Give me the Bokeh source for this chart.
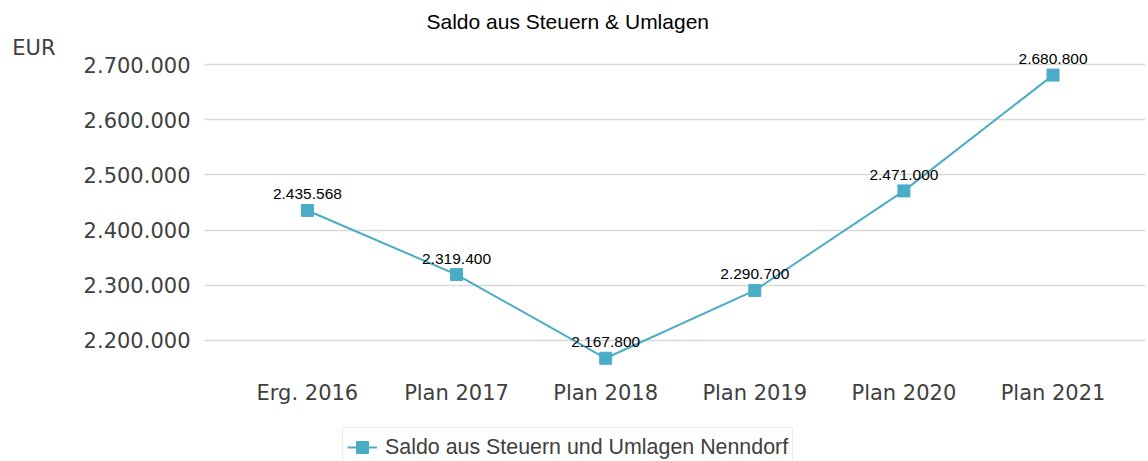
from bokeh.plotting import figure
from bokeh.layouts import column
from bokeh.models import (Range1d, FixedTicker, Legend, LegendItem, LinearAxis, ColumnDataSource)
from bokeh.core.properties import value
from bokeh.embed import file_html
from bokeh.resources import INLINE

categories = ["Erg. 2016", "Plan 2017", "Plan 2018", "Plan 2019", "Plan 2020", "Plan 2021"]
values = [2435568, 2319400, 2167800, 2290700, 2471000, 2680800]
y_ticks = [2200000, 2300000, 2400000, 2500000, 2600000, 2700000]
series_name = "Saldo aus Steuern und Umlagen Nenndorf"
title_text = "Saldo aus Steuern & Umlagen"
unit_text = "EUR"

def fmt(v):
    return f"{v:,}".replace(",", ".")

xs = list(range(len(categories)))
src = ColumnDataSource(dict(x=xs, y=values, lbl=[fmt(v) for v in values]))

COLOR = "#4bacc6"
TXT = "#404040"
Y_START, Y_END = 2142000, 2761600
UNIT_POS = 2730800  # vertical position of the unit caption (layout only)

p = figure(width=1148, height=420, output_backend="svg", toolbar_location=None,
           x_range=Range1d(-0.69, 5.62), y_range=Range1d(Y_START, Y_END),
           min_border_left=204, min_border_right=3, min_border_top=30, min_border_bottom=48)
p.outline_line_color = None
p.background_fill_color = "white"
p.border_fill_color = "white"

p.title.text = title_text
p.title.text_font = "Liberation Sans"
p.title.text_font_size = "21px"
p.title.text_font_style = "normal"
p.title.text_color = "#000000"
p.title.align = "left"
p.title.offset = 222
p.title.standoff = -4

p.xgrid.grid_line_color = None
p.ygrid.grid_line_color = "#d9d9d9"
p.ygrid.grid_line_width = 1.5

p.yaxis.ticker = FixedTicker(ticks=y_ticks)
p.yaxis.major_label_overrides = {t: fmt(t) for t in y_ticks}
p.xaxis.ticker = FixedTicker(ticks=xs)
p.xaxis.major_label_overrides = {i: c for i, c in enumerate(categories)}

unit_axis = LinearAxis(ticker=FixedTicker(ticks=[UNIT_POS]),
                       major_label_overrides={UNIT_POS: unit_text})
p.add_layout(unit_axis, "left")

for ax in (p.xaxis[0], p.yaxis[0], unit_axis):
    ax.axis_line_color = None
    ax.major_tick_line_color = None
    ax.minor_tick_line_color = None
    ax.major_tick_out = 0
    ax.major_tick_in = 0
    ax.minor_tick_out = 0
    ax.major_label_text_font = "DejaVu Sans"
    ax.major_label_text_font_size = "21px"
    ax.major_label_text_color = TXT
p.yaxis[0].major_label_standoff = 14
p.xaxis[0].major_label_standoff = 8
unit_axis.major_label_standoff = 25

line = p.line("x", "y", source=src, line_color=COLOR, line_width=2)
pts = p.scatter("x", "y", source=src, marker="square", size=12, fill_color=COLOR, line_color=COLOR)
p.text("x", "y", text="lbl", source=src, text_font=value("Liberation Sans"), text_font_size="15.5px",
       text_color="#000000", text_align="center", text_baseline="alphabetic", y_offset=-16)

# legend strip below the chart (its series stays outside its own visible range)
lg = figure(width=1148, height=41, output_backend="svg", toolbar_location=None,
            x_range=Range1d(0, 1), y_range=Range1d(0, 1), x_axis_type=None, y_axis_type=None,
            min_border_left=0, min_border_right=0, min_border_top=0, min_border_bottom=0)
lg.outline_line_color = None
lg.xgrid.grid_line_color = None
lg.ygrid.grid_line_color = None
lg_line = lg.line("x", "y", source=src, line_color=COLOR, line_width=2)
lg_pts = lg.scatter("x", "y", source=src, marker="square", size=14, fill_color=COLOR, line_color=COLOR)

legend = Legend(items=[LegendItem(label=series_name, renderers=[lg_line, lg_pts])],
                location=(138, -6), orientation="horizontal",
                label_text_font="Liberation Sans", label_text_font_size="21.4px", label_text_color=TXT,
                glyph_width=30, glyph_height=30, label_standoff=8, padding=4, margin=0,
                border_line_color="#d9d9d9", border_line_width=1.5, background_fill_alpha=1)
lg.add_layout(legend, "center")

layout = column(p, lg, spacing=0)
open("out.html", "w").write(file_html(layout, INLINE))
